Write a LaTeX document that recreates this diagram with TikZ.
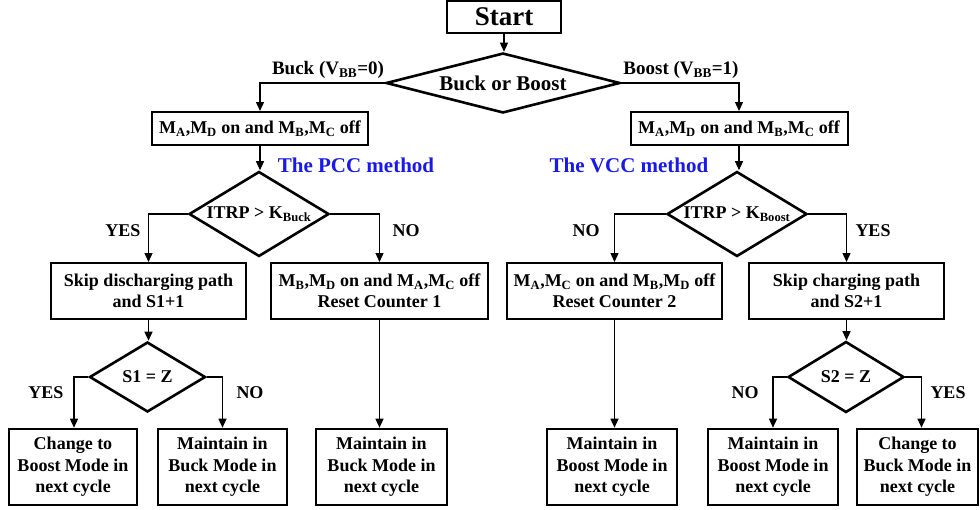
\documentclass[tikz,border=0pt]{standalone}
\usepackage{fontspec}
\setmainfont{Liberation Serif}
\usetikzlibrary{shapes.geometric,arrows.meta,calc}
\definecolor{mblue}{RGB}{25,25,235}
\begin{document}
\begin{tikzpicture}[x=1pt,y=-1pt,
  txt/.style={font=\bfseries\fontsize{18}{21.5}\selectfont, align=center, inner sep=0pt},
  box/.style={txt, draw, line width=2pt},
  endbox/.style={txt, draw, line width=2.6pt, minimum height=76pt},
  dec/.style={txt, draw, diamond, line width=2.6pt},
  conn/.style={line width=1.3pt, -{Triangle[length=9pt,width=8pt]}},
  lbl/.style={font=\bfseries\fontsize{18}{21.5}\selectfont, inner sep=0pt},
  meth/.style={font=\bfseries\fontsize{21}{24}\selectfont, text=mblue, inner sep=0pt}
]
\path[use as bounding box] (0,0) rectangle (980,509);

% top
\node[box, line width=1.4pt, minimum width=114pt, minimum height=32pt, font=\bfseries\fontsize{27}{30}\selectfont] (start) at (504,17) {Start};
\node[dec, aspect=3.9, minimum width=234pt, minimum height=60pt, font=\bfseries\fontsize{21}{24}\selectfont] (d1) at (503,83) {Buck or Boost};

\node[box, minimum width=216pt, minimum height=33pt] (L1) at (260,128.5) {M\textsubscript{A},M\textsubscript{D} on and M\textsubscript{B},M\textsubscript{C} off};
\node[box, minimum width=217pt, minimum height=33pt] (R1) at (739,128.5) {M\textsubscript{A},M\textsubscript{D} on and M\textsubscript{B},M\textsubscript{C} off};

\node[dec, aspect=1.65, minimum width=140pt, minimum height=85pt] (dL) at (259,214) {ITRP > K\textsubscript{Buck}};
\node[dec, aspect=1.65, minimum width=140pt, minimum height=85pt] (dR) at (737,214) {ITRP > K\textsubscript{Boost}};

\node[box, minimum width=195pt, minimum height=56pt] (L2a) at (148.5,291) {Skip discharging path\\and S1+1};
\node[box, minimum width=217pt, minimum height=56pt] (L2b) at (379.5,291) {M\textsubscript{B},M\textsubscript{D} on and M\textsubscript{A},M\textsubscript{C} off\\Reset Counter 1};
\node[box, minimum width=215pt, minimum height=56pt] (R2a) at (614.5,291) {M\textsubscript{A},M\textsubscript{C} on and M\textsubscript{B},M\textsubscript{D} off\\Reset Counter 2};
\node[box, minimum width=195pt, minimum height=56pt] (R2b) at (846.5,291) {Skip charging path\\and S2+1};

\node[dec, aspect=1.66, minimum width=116pt, minimum height=70pt] (dS1) at (147.5,377) {S1 = Z};
\node[dec, aspect=1.66, minimum width=116pt, minimum height=71pt] (dS2) at (846,377) {S2 = Z};

\node[endbox, minimum width=128pt] (B1) at (73,467) {Change to\\Boost Mode in\\next cycle};
\node[endbox, minimum width=129pt] (B2) at (222.5,467) {Maintain in\\Buck Mode in\\next cycle};
\node[endbox, minimum width=131pt] (B3) at (381.5,467) {Maintain in\\Buck Mode in\\next cycle};
\node[endbox, minimum width=130pt] (B4) at (612,467) {Maintain in\\Boost Mode in\\next cycle};
\node[endbox, minimum width=130pt] (B5) at (773,467) {Maintain in\\Boost Mode in\\next cycle};
\node[endbox, minimum width=121pt] (B6) at (917.5,467) {Change to\\Buck Mode in\\next cycle};

% labels
\node[lbl, font=\bfseries\fontsize{19}{22}\selectfont] (lbuck) at (328,70) {Buck (V\textsubscript{BB}=0)};
\node[lbl, font=\bfseries\fontsize{19}{22}\selectfont] (lboost) at (681,70) {Boost (V\textsubscript{BB}=1)};
\node[meth] (pcc) at (356,165) {The PCC method};
\node[meth] (vcc) at (629,165) {The VCC method};
\node[lbl] (y1) at (123,231) {YES};
\node[lbl] (n1) at (406,231) {NO};
\node[lbl] (n2) at (586,231) {NO};
\node[lbl] (y2) at (873,231) {YES};
\node[lbl] (y3) at (46,393) {YES};
\node[lbl] (n3) at (250,393) {NO};
\node[lbl] (n4) at (745,393) {NO};
\node[lbl] (y4) at (948,393) {YES};

% connectors
\draw[conn] (start) -- (start.south |- d1.north);
\draw[conn] (d1.west) -| (L1.north);
\draw[conn] (d1.east) -| (R1.north);
\draw[conn] (L1.south) -- (L1.south |- dL.north);
\draw[conn] (R1.south) -- (R1.south |- dR.north);
\draw[conn] (dL.west) -| (L2a.north);
\draw[conn] (dL.east) -| (L2b.north);
\draw[conn] (dR.west) -| (R2a.north);
\draw[conn] (dR.east) -| (R2b.north);
\draw[conn] (L2a.south) -- (L2a.south |- dS1.north);
\draw[conn] (R2b.south) -- (R2b.south |- dS2.north);
\draw[conn] (L2b.south) -- (L2b.south |- B3.north);
\draw[conn] (R2a.south) -- (R2a.south |- B4.north);
\draw[conn] (dS1.west) -| ($(B1.north)+(1,0)$);
\draw[conn] (dS1.east) -| (B2.north);
\draw[conn] (dS2.west) -| (B5.north);
\draw[conn] (dS2.east) -| ($(B6.north)+(4,0)$);
\end{tikzpicture}
\end{document}
